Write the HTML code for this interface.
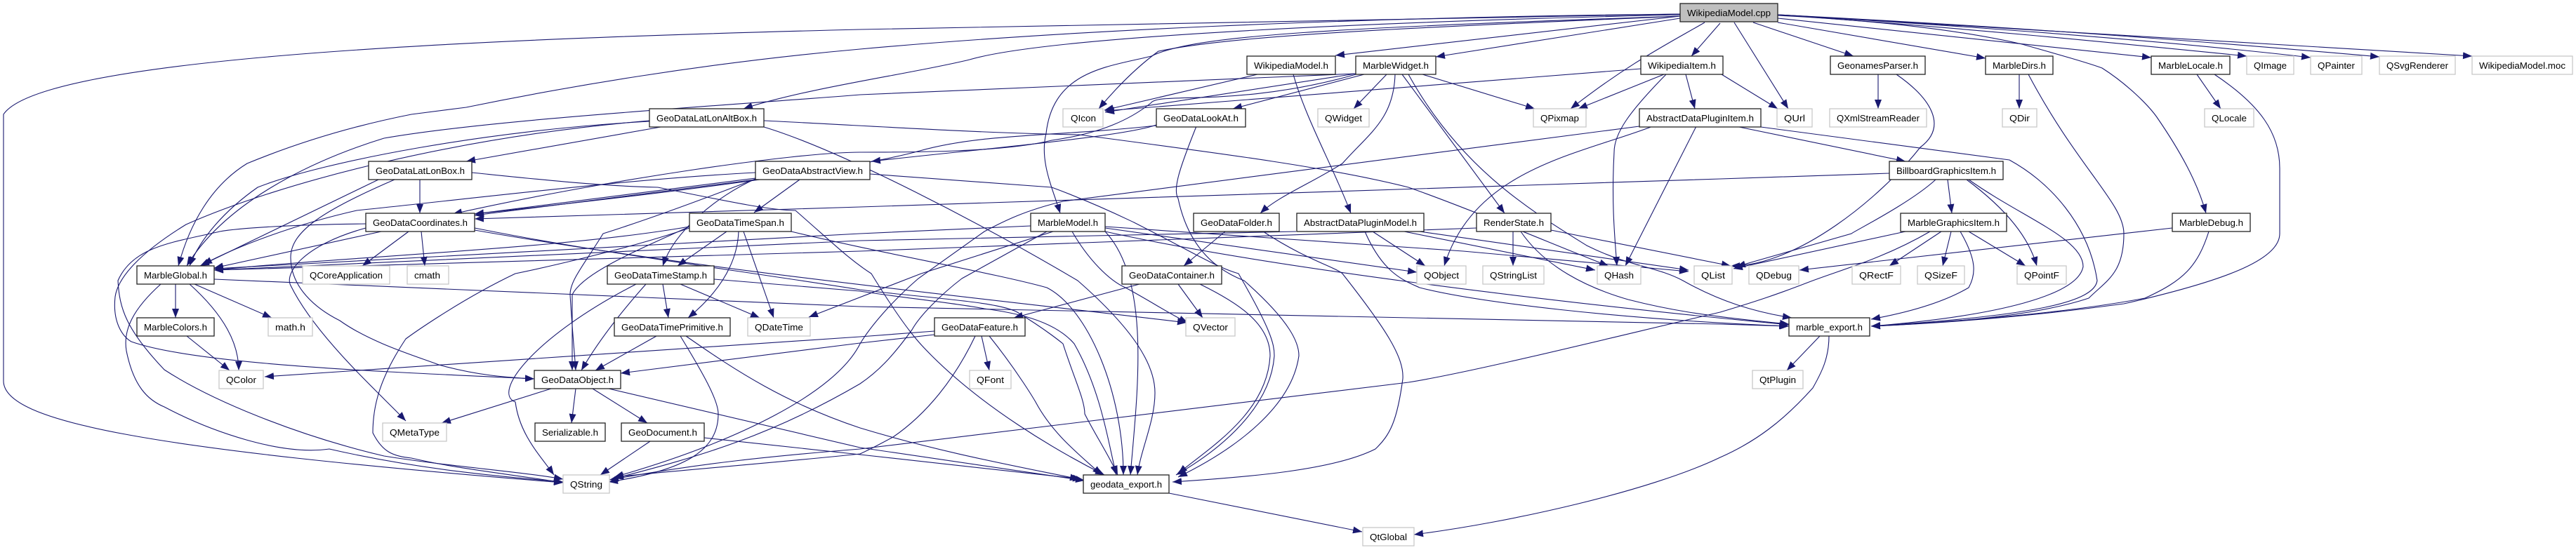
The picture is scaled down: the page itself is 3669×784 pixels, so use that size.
<!DOCTYPE html>
<html><head><meta charset="utf-8"><title>WikipediaModel.cpp include graph</title>
<style>html,body{margin:0;padding:0;background:#fff}svg{display:block}
text{font-family:"Liberation Sans",sans-serif;font-size:13.33px;fill:#000}</style></head>
<body>
<svg xmlns="http://www.w3.org/2000/svg" width="3669" height="784" viewBox="0 0 3669 784">
<defs><marker id="a" markerUnits="userSpaceOnUse" markerWidth="14" markerHeight="11" refX="13" refY="5.5" orient="auto"><polygon points="0,0.5 13,5.5 0,10.5" fill="#191970"/></marker></defs>
<rect width="3669" height="784" fill="#fff"/>
<g fill="none" stroke="#191970" stroke-width="1.1" marker-end="url(#a)">
<!-- from WikipediaModel.cpp -->
<path d="M2393,20 L1225,42 C700,55 60,80 5,163 L5,543 C5,600 200,640 802,688"/>
<path d="M2393,20 C1900,25 1500,45 1225,70 C1000,90 800,125 664,153 L586,163 C500,180 420,205 352,233 C300,265 270,320 254,379"/>
<path d="M2393,21 C2000,30 1500,50 1381,85 C1300,105 1150,125 1059,155"/>
<path d="M2393,23 L1902,79"/>
<path d="M2393,26 L2045,81"/>
<path d="M2393,23 C1900,40 1700,50 1640,80 C1580,95 1500,100 1490,190 C1480,230 1500,270 1510,304"/>
<path d="M2393,23 C2000,40 1760,50 1650,73 C1620,95 1590,125 1565,155"/>
<path d="M2428,32 C2380,60 2320,90 2237,155"/>
<path d="M2450,33 L2409,80"/>
<path d="M2470,32 L2547,155"/>
<path d="M2497,32 L2640,80"/>
<path d="M2532,32 L2828,83"/>
<path d="M2532,26 L3064,82"/>
<path d="M2532,21 C2800,40 3000,60 3200,80"/>
<path d="M2532,21 C2850,40 3100,60 3291,82"/>
<path d="M2532,21 C2900,40 3150,60 3389,81"/>
<path d="M2532,21 L3521,80"/>
<path d="M2532,22 C2650,28 2780,40 2880,63 C2940,80 2975,90 2994,97 C3030,120 3060,150 3072,167 C3105,215 3130,260 3142,304"/>
<!-- WikipediaModel.h -->
<path d="M1791,106 L1573,157"/>
<path d="M1842,106 C1860,170 1900,240 1924,304"/>
<!-- MarbleWidget.h -->
<path d="M1931,105 L1225,135 C1040,150 700,170 547,197 C440,230 320,290 266,379"/>
<path d="M1931,105 L1574,160"/>
<path d="M1935,105 C1760,155 1650,130 1639,147 C1610,170 1569,190 1498,200 C1430,217 1300,217 1225,217 C1133,217 859,257 645,305"/>
<path d="M1943,106 L1756,155"/>
<path d="M1975,106 L1928,155"/>
<path d="M1987,106 C1985,170 1950,190 1912,233 C1870,260 1820,280 1795,304"/>
<path d="M1997,106 L2143,304"/>
<path d="M2026,106 L2186,155"/>
<path d="M2006,106 C2080,240 2180,300 2260,350 C2320,380 2360,380 2397,400 C2450,430 2500,445 2552,453"/>
<!-- WikipediaItem.h -->
<path d="M2337,98 L1574,158"/>
<path d="M2370,106 L2248,155"/>
<path d="M2452,106 L2532,155"/>
<path d="M2373,106 C2320,160 2299,190 2299,217 C2295,290 2300,340 2303,379"/>
<path d="M2401,106 L2414,155"/>
<!-- GeonamesParser / Dirs / Locale / Debug -->
<path d="M2675,106 L2675,155"/>
<path d="M2701,106 C2750,140 2775,180 2735,210 C2680,280 2560,380 2465,379"/>
<path d="M2876,106 L2876,155"/>
<path d="M2889,106 C2960,240 3025,290 3025,333 C3025,390 3000,400 2975,425 C2900,450 2780,460 2665,465"/>
<path d="M3129,106 L3163,155"/>
<path d="M3154,106 C3220,150 3247,190 3247,240 L3247,333 C3247,370 3170,400 3025,433 C2900,450 2780,460 2665,465"/>
<path d="M3094,325 L2563,385"/>
<path d="M3146,330 C3130,380 3110,400 3055,425 C2950,445 2800,458 2665,465"/>
<!-- AbstractDataPluginItem.h -->
<path d="M2335,180 L1514,287 C1460,300 1430,315 1402,330 L1308,397 C1270,430 1240,465 1225,490 C1190,560 1050,630 875,680"/>
<path d="M2354,180 C2250,220 2100,240 2057,379"/>
<path d="M2416,180 L2315,379"/>
<path d="M2477,181 L2714,230"/>
<path d="M2508,181 L2862,228 C2920,260 2975,320 2987,400 C2983,430 2900,450 2665,465"/>
<!-- BillboardGraphicsItem.h -->
<path d="M2691,247 L2450,255 L1225,295 L676,312"/>
<path d="M2757,256 C2720,290 2640,330 2637,333 L2473,380"/>
<path d="M2774,256 L2780,304"/>
<path d="M2801,256 C2860,300 2890,340 2901,379"/>
<path d="M2804,256 C2880,310 2967,340 2967,380 C2960,420 2850,450 2665,465"/>
<!-- MarbleGraphicsItem.h -->
<path d="M2714,330 L2469,383"/>
<path d="M2765,330 L2691,379"/>
<path d="M2779,330 L2767,379"/>
<path d="M2804,330 L2885,379"/>
<path d="M2792,330 C2815,370 2815,390 2804,410 C2770,430 2720,445 2665,455"/>
<path d="M2749,330 C2680,370 2620,385 2574,403 C2530,420 2500,430 2450,445 C2300,480 2100,530 2006,545 L1225,640 C1100,650 1000,660 868,684"/>
<!-- RenderState.h -->
<path d="M2103,325 L1225,358 L305,385"/>
<path d="M2155,330 L2155,379"/>
<path d="M2209,328 L2465,379"/>
<path d="M2166,330 C2200,380 2260,410 2319,427 C2370,440 2420,450 2548,462"/>
<!-- AbstractDataPluginModel.h -->
<path d="M1846,330 L1225,343 L305,385"/>
<path d="M1955,330 L2030,379"/>
<path d="M2000,330 L2272,385"/>
<path d="M2022,330 L2405,385"/>
<path d="M1944,330 C1970,390 2000,400 2022,410 C2100,430 2300,455 2547,465"/>
<!-- GeoDataFolder / Container -->
<path d="M1745,330 L1686,379"/>
<path d="M1799,330 C1860,370 1900,380 1912,390 C1975,470 2000,510 1998,540 C1990,600 1980,620 1959,640 C1900,670 1780,680 1670,687"/>
<path d="M1623,405 L1444,453"/>
<path d="M1678,405 L1713,453"/>
<path d="M1709,405 C1760,430 1809,460 1809,507 C1805,590 1720,640 1678,675"/>
<!-- MarbleModel.h -->
<path d="M1468,322 L1225,333 L305,383"/>
<path d="M1574,323 L2084,358 L2405,387"/>
<path d="M1574,325 L2018,388"/>
<path d="M1527,330 C1550,370 1580,400 1603,410 C1640,430 1670,450 1692,460"/>
<path d="M1491,330 L1370,397 C1340,420 1310,450 1299,470 C1270,510 1250,530 1225,547 C1100,620 1000,650 875,682"/>
<path d="M1500,330 L1312,390 L1152,452"/>
<path d="M1574,330 C1640,400 1620,560 1610,677"/>
<path d="M1574,330 C1800,380 2200,430 2548,463"/>
<!-- GeoDataLatLonAltBox.h -->
<path d="M925,173 C700,185 460,230 367,267 C320,300 285,340 270,379"/>
<path d="M925,172 C650,195 400,260 265,320 C200,360 168,395 164,423 C160,460 175,480 187,487 C280,520 550,530 761,540"/>
<path d="M941,181 L664,230"/>
<path d="M1088,172 C1250,180 1400,190 1537,192 C1750,220 1900,240 2006,267 C2100,300 2240,360 2291,379"/>
<path d="M1088,181 C1200,215 1400,320 1535,400 C1615,470 1645,520 1645,560 C1645,600 1625,640 1620,677"/>
<!-- GeoDataLatLonBox.h -->
<path d="M598,256 L598,304"/>
<path d="M539,256 L285,379"/>
<path d="M562,256 C460,300 414,330 414,367 C414,410 450,440 484,457 C530,490 600,510 625,520 C680,535 720,538 761,540"/>
<path d="M672,246 C760,255 850,265 937,267 C1050,290 1100,300 1133,300 C1190,350 1210,370 1241,390 C1290,470 1310,490 1327,507 C1400,580 1500,640 1573,677"/>
<!-- GeoDataAbstractView.h -->
<path d="M1076,246 C900,255 700,280 508,300 C420,320 340,350 289,377"/>
<path d="M1076,254 L676,305"/>
<path d="M1076,256 L676,307"/>
<path d="M1139,256 L1074,303"/>
<path d="M1076,255 C1020,280 960,330 944,379"/>
<path d="M1076,255 C960,300 900,320 859,333 C830,380 812,400 812,420 C815,470 818,500 820,528"/>
<path d="M1239,248 L1498,267 C1560,290 1600,310 1615,317 C1700,360 1730,380 1764,390 C1810,470 1815,490 1815,507 C1810,580 1740,640 1675,677"/>
<!-- GeoDataLookAt.h -->
<path d="M1647,178 C1600,195 1400,212 1241,230"/>
<path d="M1647,179 C1500,195 1400,190 1310,215 C1220,240 1000,270 676,305"/>
<path d="M1704,180 C1680,240 1670,270 1678,283 C1690,340 1720,380 1772,400 C1840,460 1850,490 1850,507 C1840,580 1760,640 1678,680"/>
<!-- GeoDataCoordinates.h -->
<path d="M543,330 L305,382"/>
<path d="M521,319 C420,320 340,325 313,330 C250,345 190,350 168,400 C170,440 180,470 234,527 C300,570 420,620 547,650 C640,665 740,672 802,683"/>
<path d="M521,325 C430,350 405,390 414,407 C450,480 540,560 578,600"/>
<path d="M582,330 L516,379"/>
<path d="M600,330 L605,379"/>
<path d="M676,325 C850,360 1050,385 1225,413 C1320,425 1430,430 1452,447 C1490,470 1514,490 1514,490 C1530,540 1545,570 1545,590 C1560,620 1580,650 1592,677"/>
<path d="M676,328 C1000,385 1400,425 1690,460"/>
<!-- GeoDataTimeSpan.h -->
<path d="M982,323 C800,355 500,365 305,385"/>
<path d="M982,323 C900,360 830,390 815,420 C815,460 815,500 815,528"/>
<path d="M982,325 C880,360 734,390 734,390 C650,430 578,483 578,483 C540,540 531,580 531,617 C545,645 560,650 586,653 C650,668 720,675 802,688"/>
<path d="M1035,330 L965,379"/>
<path d="M1052,330 C1050,380 1020,420 980,453"/>
<path d="M1059,330 L1102,453"/>
<path d="M1127,330 C1250,360 1420,390 1491,410 C1550,440 1600,560 1600,677"/>
<!-- GeoDataTimeStamp.h -->
<path d="M920,405 C880,450 850,490 828,528"/>
<path d="M944,405 L952,453"/>
<path d="M969,405 L1082,453"/>
<path d="M906,405 C760,480 700,560 734,573 C740,620 770,650 789,677"/>
<path d="M1017,398 L1225,415 C1290,425 1360,432 1402,440 C1440,445 1500,455 1530,490 C1570,560 1580,640 1590,677"/>
<!-- MarbleGlobal / Colors -->
<path d="M305,398 L1225,437 L2450,462 L2548,465"/>
<path d="M250,405 L250,453"/>
<path d="M270,405 C320,450 340,490 340,528"/>
<path d="M277,405 L387,453"/>
<path d="M229,405 C190,440 175,470 180,500 C190,550 210,570 234,580 C300,615 400,650 469,640 C600,670 720,680 802,687"/>
<path d="M266,479 L327,528"/>
<!-- GeoDataTimePrimitive.h -->
<path d="M935,479 L848,528"/>
<path d="M969,479 C1000,530 1023,570 1023,590 C1023,640 980,670 867,687"/>
<path d="M977,479 C1050,530 1120,575 1225,610 C1340,645 1450,665 1537,683"/>
<!-- GeoDataFeature.h -->
<path d="M1398,479 L1409,528"/>
<path d="M1331,472 L1225,480 L377,537"/>
<path d="M1331,477 L1225,489 L884,532"/>
<path d="M1389,479 C1360,540 1320,590 1272,623 C1250,635 1240,640 1225,647 C1100,660 970,670 875,680"/>
<path d="M1409,479 C1450,530 1475,573 1475,573 C1500,620 1540,650 1569,677"/>
<!-- GeoDataObject / GeoDocument / exports -->
<path d="M785,554 L629,603"/>
<path d="M820,554 L814,603"/>
<path d="M844,554 L922,603"/>
<path d="M867,554 L1225,638 L1545,685"/>
<path d="M926,629 L855,677"/>
<path d="M1003,624 L1225,648 L1541,683"/>
<path d="M1665,703 L1940,758"/>
<path d="M2592,479 L2545,528"/>
<path d="M2605,479 C2605,510 2595,530 2582,553 C2540,600 2500,630 2450,652 C2350,700 2150,745 2014,762"/>
</g>
<g fill="#fff" stroke="#222" stroke-width="1.3">
<rect x="2393" y="5" width="139" height="26" fill="#bfbfbf"/>
<rect x="1776" y="80" width="126" height="26"/><rect x="1931" y="80" width="114" height="26"/><rect x="2337" y="80" width="117" height="26"/><rect x="2607" y="80" width="135" height="26"/><rect x="2828" y="80" width="96" height="26"/><rect x="3064" y="80" width="112" height="26"/>
<rect x="925" y="155" width="163" height="26"/><rect x="1647" y="155" width="127" height="26"/><rect x="2335" y="155" width="173" height="26"/>
<rect x="525" y="230" width="147" height="26"/><rect x="1076" y="230" width="163" height="26"/><rect x="2691" y="230" width="162" height="26"/>
<rect x="521" y="304" width="155" height="26"/><rect x="982" y="304" width="145" height="26"/><rect x="1468" y="304" width="106" height="26"/><rect x="1700" y="304" width="122" height="26"/><rect x="1847" y="304" width="181" height="26"/><rect x="2103" y="304" width="106" height="26"/><rect x="2707" y="304" width="151" height="26"/><rect x="3094" y="304" width="111" height="26"/>
<rect x="195" y="379" width="110" height="26"/><rect x="865" y="379" width="152" height="26"/><rect x="1598" y="379" width="142" height="26"/>
<rect x="195" y="453" width="110" height="26"/><rect x="875" y="453" width="165" height="26"/><rect x="1331" y="453" width="129" height="26"/><rect x="2548" y="453" width="115" height="26"/>
<rect x="761" y="528" width="123" height="26"/>
<rect x="762" y="603" width="100" height="26"/><rect x="885" y="603" width="118" height="26"/>
<rect x="1543" y="677" width="122" height="26"/>
</g>
<g fill="#fff" stroke="#c8c8c8" stroke-width="1.3">
<rect x="3200" y="80" width="67" height="26"/><rect x="3291" y="80" width="73" height="26"/><rect x="3389" y="80" width="108" height="26"/><rect x="3521" y="80" width="143" height="26"/>
<rect x="1514" y="155" width="57" height="26"/><rect x="1877" y="155" width="73" height="26"/><rect x="2184" y="155" width="75" height="26"/><rect x="2531" y="155" width="50" height="26"/><rect x="2606" y="155" width="138" height="26"/><rect x="2852" y="155" width="49" height="26"/><rect x="3140" y="155" width="70" height="26"/>
<rect x="431" y="379" width="124" height="26"/><rect x="580" y="379" width="59" height="26"/><rect x="2018" y="379" width="70" height="26"/><rect x="2112" y="379" width="87" height="26"/><rect x="2275" y="379" width="62" height="26"/><rect x="2413" y="379" width="54" height="26"/><rect x="2491" y="379" width="71" height="26"/><rect x="2638" y="379" width="69" height="26"/><rect x="2731" y="379" width="67" height="26"/><rect x="2873" y="379" width="70" height="26"/>
<rect x="382" y="453" width="63" height="26"/><rect x="1065" y="453" width="89" height="26"/><rect x="1689" y="453" width="70" height="26"/>
<rect x="312" y="528" width="63" height="26"/><rect x="1381" y="528" width="59" height="26"/><rect x="2496" y="528" width="72" height="26"/>
<rect x="545" y="603" width="91" height="26"/>
<rect x="802" y="677" width="66" height="26"/>
<rect x="1941" y="752" width="73" height="26"/>
</g>
<g>
<text x="2403" y="23" textLength="119" lengthAdjust="spacingAndGlyphs">WikipediaModel.cpp</text>
<text x="1786" y="98" textLength="106" lengthAdjust="spacingAndGlyphs">WikipediaModel.h</text>
<text x="1941" y="98" textLength="94" lengthAdjust="spacingAndGlyphs">MarbleWidget.h</text>
<text x="2347" y="98" textLength="97" lengthAdjust="spacingAndGlyphs">WikipediaItem.h</text>
<text x="2617" y="98" textLength="115" lengthAdjust="spacingAndGlyphs">GeonamesParser.h</text>
<text x="2838" y="98" textLength="76" lengthAdjust="spacingAndGlyphs">MarbleDirs.h</text>
<text x="3074" y="98" textLength="92" lengthAdjust="spacingAndGlyphs">MarbleLocale.h</text>
<text x="3210" y="98" textLength="47" lengthAdjust="spacingAndGlyphs">QImage</text>
<text x="3301" y="98" textLength="53" lengthAdjust="spacingAndGlyphs">QPainter</text>
<text x="3399" y="98" textLength="88" lengthAdjust="spacingAndGlyphs">QSvgRenderer</text>
<text x="3531" y="98" textLength="123" lengthAdjust="spacingAndGlyphs">WikipediaModel.moc</text>
<text x="935" y="173" textLength="143" lengthAdjust="spacingAndGlyphs">GeoDataLatLonAltBox.h</text>
<text x="1525" y="173" textLength="36" lengthAdjust="spacingAndGlyphs">QIcon</text>
<text x="1657" y="173" textLength="107" lengthAdjust="spacingAndGlyphs">GeoDataLookAt.h</text>
<text x="1887" y="173" textLength="53" lengthAdjust="spacingAndGlyphs">QWidget</text>
<text x="2194" y="173" textLength="55" lengthAdjust="spacingAndGlyphs">QPixmap</text>
<text x="2345" y="173" textLength="153" lengthAdjust="spacingAndGlyphs">AbstractDataPluginItem.h</text>
<text x="2541" y="173" textLength="30" lengthAdjust="spacingAndGlyphs">QUrl</text>
<text x="2616" y="173" textLength="118" lengthAdjust="spacingAndGlyphs">QXmlStreamReader</text>
<text x="2862" y="173" textLength="29" lengthAdjust="spacingAndGlyphs">QDir</text>
<text x="3150" y="173" textLength="50" lengthAdjust="spacingAndGlyphs">QLocale</text>
<text x="535" y="248" textLength="127" lengthAdjust="spacingAndGlyphs">GeoDataLatLonBox.h</text>
<text x="1086" y="248" textLength="143" lengthAdjust="spacingAndGlyphs">GeoDataAbstractView.h</text>
<text x="2701" y="248" textLength="142" lengthAdjust="spacingAndGlyphs">BillboardGraphicsItem.h</text>
<text x="531" y="322" textLength="135" lengthAdjust="spacingAndGlyphs">GeoDataCoordinates.h</text>
<text x="992" y="322" textLength="125" lengthAdjust="spacingAndGlyphs">GeoDataTimeSpan.h</text>
<text x="1478" y="322" textLength="86" lengthAdjust="spacingAndGlyphs">MarbleModel.h</text>
<text x="1710" y="322" textLength="102" lengthAdjust="spacingAndGlyphs">GeoDataFolder.h</text>
<text x="1857" y="322" textLength="161" lengthAdjust="spacingAndGlyphs">AbstractDataPluginModel.h</text>
<text x="2113" y="322" textLength="86" lengthAdjust="spacingAndGlyphs">RenderState.h</text>
<text x="2717" y="322" textLength="131" lengthAdjust="spacingAndGlyphs">MarbleGraphicsItem.h</text>
<text x="3104" y="322" textLength="91" lengthAdjust="spacingAndGlyphs">MarbleDebug.h</text>
<text x="205" y="397" textLength="90" lengthAdjust="spacingAndGlyphs">MarbleGlobal.h</text>
<text x="441" y="397" textLength="104" lengthAdjust="spacingAndGlyphs">QCoreApplication</text>
<text x="590" y="397" textLength="37" lengthAdjust="spacingAndGlyphs">cmath</text>
<text x="875" y="397" textLength="132" lengthAdjust="spacingAndGlyphs">GeoDataTimeStamp.h</text>
<text x="1608" y="397" textLength="122" lengthAdjust="spacingAndGlyphs">GeoDataContainer.h</text>
<text x="2028" y="397" textLength="50" lengthAdjust="spacingAndGlyphs">QObject</text>
<text x="2122" y="397" textLength="67" lengthAdjust="spacingAndGlyphs">QStringList</text>
<text x="2285" y="397" textLength="42" lengthAdjust="spacingAndGlyphs">QHash</text>
<text x="2423" y="397" textLength="34" lengthAdjust="spacingAndGlyphs">QList</text>
<text x="2501" y="397" textLength="51" lengthAdjust="spacingAndGlyphs">QDebug</text>
<text x="2648" y="397" textLength="49" lengthAdjust="spacingAndGlyphs">QRectF</text>
<text x="2741" y="397" textLength="47" lengthAdjust="spacingAndGlyphs">QSizeF</text>
<text x="2883" y="397" textLength="50" lengthAdjust="spacingAndGlyphs">QPointF</text>
<text x="205" y="471" textLength="90" lengthAdjust="spacingAndGlyphs">MarbleColors.h</text>
<text x="392" y="471" textLength="43" lengthAdjust="spacingAndGlyphs">math.h</text>
<text x="885" y="471" textLength="145" lengthAdjust="spacingAndGlyphs">GeoDataTimePrimitive.h</text>
<text x="1075" y="471" textLength="69" lengthAdjust="spacingAndGlyphs">QDateTime</text>
<text x="1341" y="471" textLength="109" lengthAdjust="spacingAndGlyphs">GeoDataFeature.h</text>
<text x="1699" y="471" textLength="50" lengthAdjust="spacingAndGlyphs">QVector</text>
<text x="2558" y="471" textLength="95" lengthAdjust="spacingAndGlyphs">marble_export.h</text>
<text x="322" y="546" textLength="43" lengthAdjust="spacingAndGlyphs">QColor</text>
<text x="771" y="546" textLength="103" lengthAdjust="spacingAndGlyphs">GeoDataObject.h</text>
<text x="1391" y="546" textLength="39" lengthAdjust="spacingAndGlyphs">QFont</text>
<text x="2506" y="546" textLength="52" lengthAdjust="spacingAndGlyphs">QtPlugin</text>
<text x="555" y="621" textLength="71" lengthAdjust="spacingAndGlyphs">QMetaType</text>
<text x="772" y="621" textLength="80" lengthAdjust="spacingAndGlyphs">Serializable.h</text>
<text x="895" y="621" textLength="98" lengthAdjust="spacingAndGlyphs">GeoDocument.h</text>
<text x="812" y="695" textLength="46" lengthAdjust="spacingAndGlyphs">QString</text>
<text x="1553" y="695" textLength="102" lengthAdjust="spacingAndGlyphs">geodata_export.h</text>
<text x="1951" y="770" textLength="53" lengthAdjust="spacingAndGlyphs">QtGlobal</text>
</g>
</svg>
</body></html>
